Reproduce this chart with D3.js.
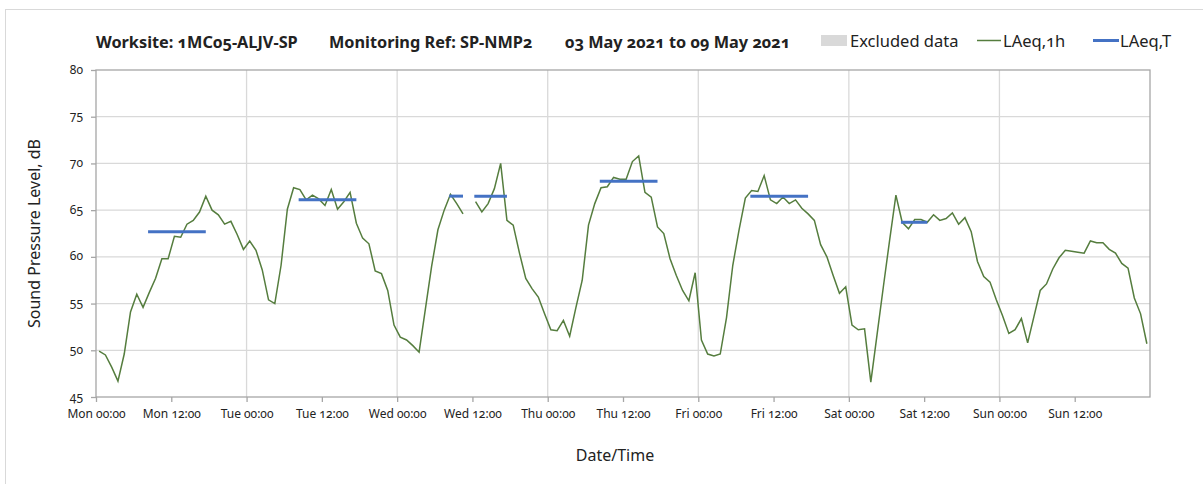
<!DOCTYPE html>
<html>
<head>
<meta charset="utf-8">
<script src="https://cdn.jsdelivr.net/npm/d3@7"></script>
<style>
  body { margin: 0; background: #fff; }
  svg text { font-family: "Noto Sans", "Open Sans", sans-serif; font-variant-numeric: oldstyle-nums; fill: #222; }
</style>
</head>
<body>
<div id="chart"></div>
<script>
// hourly LAeq,1h values, Mon 03 May 00:00 -> Sun 09 May 23:00 (null = gap)
const laeq1h = [
  49.9, 49.5, 48.2, 46.7, 49.6, 54.1, 56.0, 54.6, 56.2, 57.7, 59.8, 59.8,
  62.2, 62.1, 63.5, 63.9, 64.8, 66.5, 65.0, 64.5, 63.5, 63.8, 62.4, 60.8,
  61.7, 60.7, 58.6, 55.4, 55.0, 59.1, 65.1, 67.4, 67.2, 66.1, 66.6, 66.2,
  65.5, 67.2, 65.1, 65.9, 66.9, 63.6, 62.0, 61.4, 58.5, 58.2, 56.4, 52.7,
  51.4, 51.1, 50.5, 49.8, 54.4, 59.0, 62.9, 65.0, 66.7, 65.7, 64.6, null,
  65.9, 64.8, 65.7, 67.3, 70.0, 63.9, 63.4, 60.4, 57.7, 56.6, 55.7, 53.9,
  52.2, 52.1, 53.2, 51.5, 54.6, 57.5, 63.4, 65.7, 67.4, 67.5, 68.5, 68.3,
  68.3, 70.2, 70.8, 66.9, 66.4, 63.2, 62.5, 59.8, 58.0, 56.4, 55.3, 58.3,
  51.1, 49.6, 49.4, 49.6, 53.5, 59.1, 62.9, 66.3, 67.1, 67.0, 68.7, 66.1,
  65.7, 66.4, 65.7, 66.1, 65.2, 64.6, 63.9, 61.3, 60.0, 58.0, 56.1, 56.8,
  52.7, 52.2, 52.3, 46.6, 51.7, 56.8, 61.8, 66.6, 63.7, 63.0, 64.0, 64.0,
  63.7, 64.5, 63.9, 64.1, 64.7, 63.5, 64.2, 62.7, 59.5, 57.9, 57.3, 55.4,
  53.7, 51.8, 52.2, 53.4, 50.8, 53.6, 56.4, 57.1, 58.7, 59.9, 60.7, 60.6,
  60.5, 60.4, 61.7, 61.5, 61.5, 60.8, 60.4, 59.3, 58.8, 55.6, 53.9, 50.7
];

// LAeq,T periods (hour index start/end) and levels
const laeqTStart = [8, 32, 56, 60, 80, 104, 128];
const laeqTEnd   = [17, 41, 58, 65, 89, 113, 132];
const laeqTValue = [62.7, 66.1, 66.5, 66.5, 68.1, 66.5, 63.7];

const days = ["Mon", "Tue", "Wed", "Thu", "Fri", "Sat", "Sun"];
const yTicks = [45, 50, 55, 60, 65, 70, 75, 80];
const legendLabels = ["Excluded data", "LAeq,1h", "LAeq,T"];

const width = 1203, height = 484;
const mLeft = 96, mRight = 1150, mTop = 70, mBottom = 397;

const svg = d3.select("#chart").append("svg")
    .attr("width", width)
    .attr("height", height);

// outer frame
svg.append("rect")
    .attr("x", 5.5).attr("y", 9.5)
    .attr("width", width).attr("height", height)
    .attr("fill", "none")
    .attr("stroke", "#d9d9d9");

const x = d3.scaleLinear().domain([0, 168]).range([mLeft, mRight]);
const y = d3.scaleLinear().domain([45, 80]).range([mBottom, mTop]);

// gridlines
svg.append("g").selectAll("line")
    .data(yTicks.slice(1, -1))
    .enter().append("line")
    .attr("x1", mLeft).attr("x2", mRight)
    .attr("y1", d => y(d)).attr("y2", d => y(d))
    .attr("stroke", "#d9d9d9").attr("stroke-width", 1.3);

svg.append("g").selectAll("line")
    .data(d3.range(24, 168, 24))
    .enter().append("line")
    .attr("x1", d => x(d)).attr("x2", d => x(d))
    .attr("y1", mTop).attr("y2", mBottom)
    .attr("stroke", "#d9d9d9").attr("stroke-width", 1.3);

// plot frame
svg.append("rect")
    .attr("x", mLeft).attr("y", mTop)
    .attr("width", mRight - mLeft).attr("height", mBottom - mTop)
    .attr("fill", "none")
    .attr("stroke", "#a6a6a6").attr("stroke-width", 1.3);

// axes
const yAxis = d3.axisLeft(y).tickValues(yTicks).tickSize(5).tickPadding(8);
const gy = svg.append("g").attr("transform", `translate(${mLeft},0)`).call(yAxis);

const xAxis = d3.axisBottom(x)
    .tickValues(d3.range(0, 168, 12))
    .tickSize(5).tickPadding(7)
    .tickFormat(d => days[Math.floor(d / 24)] + " " + (d % 24 == 0 ? "00:00" : "12:00"));
const gx = svg.append("g").attr("transform", `translate(0,${mBottom})`).call(xAxis);

[gy, gx].forEach(g => {
  g.select(".domain").remove();
  g.selectAll(".tick line").attr("stroke", "#a6a6a6").attr("stroke-width", 1.3);
  g.selectAll(".tick text").attr("font-size", "12px").attr("fill", "#222");
});
gy.selectAll(".tick text").attr("dy", "0.25em");

// LAeq,1h line
const line = d3.line()
    .defined(d => d != null)
    .x((d, i) => x(i + 0.5))
    .y(d => y(d));

svg.append("path")
    .datum(laeq1h)
    .attr("d", line)
    .attr("fill", "none")
    .attr("stroke", "#557d3e")
    .attr("stroke-width", 1.5);

// LAeq,T segments
svg.append("g").selectAll("line")
    .data(laeqTValue)
    .enter().append("line")
    .attr("x1", (d, i) => x(laeqTStart[i] + 0.3))
    .attr("x2", (d, i) => x(laeqTEnd[i] + 0.5))
    .attr("y1", d => y(d)).attr("y2", d => y(d))
    .attr("stroke", "#4472c4")
    .attr("stroke-width", 3);

// axis titles
svg.append("text")
    .attr("x", 615).attr("y", 461)
    .attr("text-anchor", "middle")
    .attr("font-size", "16px")
    .text("Date/Time");

svg.append("text")
    .attr("transform", `translate(40,${(mTop + mBottom) / 2}) rotate(-90)`)
    .attr("text-anchor", "middle")
    .attr("font-size", "16px")
    .text("Sound Pressure Level, dB");

// title
const title = svg.append("text").attr("y", 48).attr("font-size", "16.3px").attr("font-weight", "bold");
title.append("tspan").attr("x", 96).text("Worksite: 1MC05-ALJV-SP");
title.append("tspan").attr("x", 329).text("Monitoring Ref: SP-NMP2");
title.append("tspan").attr("x", 565).text("03 May 2021 to 09 May 2021");

// legend
const leg = svg.append("g");
leg.append("rect").attr("x", 821).attr("y", 35).attr("width", 26).attr("height", 11).attr("fill", "#d9d9d9");
leg.append("line").attr("x1", 977).attr("x2", 1001).attr("y1", 40.5).attr("y2", 40.5)
    .attr("stroke", "#557d3e").attr("stroke-width", 1.5);
leg.append("line").attr("x1", 1093).attr("x2", 1119).attr("y1", 40.5).attr("y2", 40.5)
    .attr("stroke", "#4472c4").attr("stroke-width", 3);
leg.selectAll("text")
    .data(legendLabels)
    .enter().append("text")
    .attr("x", (d, i) => [850, 1003, 1120][i])
    .attr("y", 47)
    .attr("font-size", "16.5px")
    .text(d => d);
</script>
</body>
</html>
